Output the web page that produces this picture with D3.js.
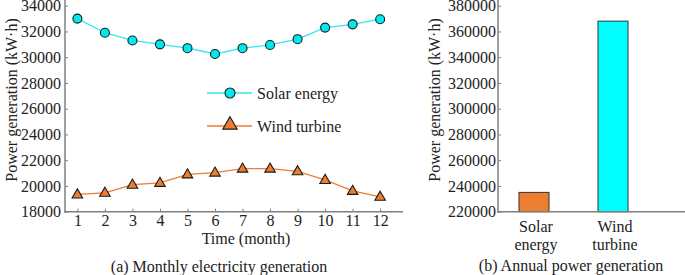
<!DOCTYPE html>
<html>
<head>
<meta charset="utf-8">
<script src="https://cdn.jsdelivr.net/npm/d3@7"></script>
<style>
  body { margin: 0; background: #fff; }
  svg text { font-family: "Liberation Serif", "Times New Roman", Times, "DejaVu Serif", serif; font-size: 16px; fill: #222; }
</style>
</head>
<body>
<svg id="chart" width="685" height="275"></svg>
<script>
// monthly data (panel a)
var months = [1, 2, 3, 4, 5, 6, 7, 8, 9, 10, 11, 12];
var solarMonthly = [33000, 31900, 31300, 31000, 30700, 30250, 30700, 30950, 31400, 32300, 32550, 32950];
var windMonthly = [19340, 19470, 20100, 20240, 20900, 21040, 21350, 21350, 21140, 20470, 19620, 19160];
var leftTicks = [18000, 20000, 22000, 24000, 26000, 28000, 30000, 32000, 34000];

// annual data (panel b) - labels as printed in the figure
var annualCats = ["Solar energy", "Wind turbine"];
var annualVals = [235000, 368000];
var annualColors = ["#ed7d31", "#00ffff"];
var rightTicks = [220000, 240000, 260000, 280000, 300000, 320000, 340000, 360000, 380000];

var svg = d3.select("#chart");
var axisColor = "#7f7f7f";
var cyanLine = "#30e8f0", cyanFill = "#00e8f0", orange = "#ed7d31";

function styleAxis(g) {
  g.attr("font-family", null).attr("font-size", null);
  g.select(".domain").remove();
  g.selectAll(".tick line").attr("stroke", axisColor);
  g.selectAll(".tick text").attr("fill", "#222");
}

// ---------- panel a ----------
var x = d3.scaleLinear().domain([0.55, 12.83]).range([65, 403]);
var y = d3.scaleLinear().domain([18000, 34000]).range([211.7, 5.7]);

var gA = svg.append("g");

gA.append("g")
    .attr("transform", "translate(65,0)")
    .call(d3.axisLeft(y).tickValues(leftTicks).tickSize(-3).tickPadding(4).tickFormat(d3.format("d")))
    .call(styleAxis);

gA.append("g")
    .attr("transform", "translate(0,211.7)")
    .call(d3.axisBottom(x).tickValues(months).tickSize(-3).tickPadding(3).tickFormat(d3.format("d")))
    .call(styleAxis);

gA.append("line").attr("x1", 65).attr("x2", 65).attr("y1", 0).attr("y2", 212.5)
    .attr("stroke", axisColor).attr("stroke-width", 1.5);
gA.append("line").attr("x1", 64.3).attr("x2", 403).attr("y1", 211.7).attr("y2", 211.7)
    .attr("stroke", axisColor).attr("stroke-width", 1.5);

var line = d3.line().x(function(d, i) { return x(months[i]); }).y(function(d) { return y(d); });

gA.append("path").datum(solarMonthly).attr("d", line)
    .attr("fill", "none").attr("stroke", cyanLine).attr("stroke-width", 1.3);
gA.append("path").datum(windMonthly).attr("d", line)
    .attr("fill", "none").attr("stroke", orange).attr("stroke-width", 1.3);

var tri = d3.symbol().type(d3.symbolTriangle).size(48);

gA.selectAll(".solar-dot")
    .data(solarMonthly)
  .enter().append("circle")
    .attr("class", "solar-dot")
    .attr("cx", function(d, i) { return x(months[i]); })
    .attr("cy", function(d) { return y(d); })
    .attr("r", 4.5)
    .attr("fill", cyanFill)
    .attr("stroke", "#1a1a1a")
    .attr("stroke-width", 1.1);

gA.selectAll(".wind-dot")
    .data(windMonthly)
  .enter().append("path")
    .attr("class", "wind-dot")
    .attr("d", tri)
    .attr("transform", function(d, i) { return "translate(" + x(months[i]) + "," + (y(d) + 0.5) + ")"; })
    .attr("fill", orange)
    .attr("stroke", "#1a1a1a")
    .attr("stroke-width", 1.1);

// legend
var legend = gA.append("g");
legend.append("line").attr("x1", 207).attr("x2", 252).attr("y1", 93).attr("y2", 93)
    .attr("stroke", cyanLine).attr("stroke-width", 1.3);
legend.append("circle").attr("cx", 230).attr("cy", 93).attr("r", 5)
    .attr("fill", cyanFill).attr("stroke", "#1a1a1a").attr("stroke-width", 1.1);
legend.append("text").attr("x", 257).attr("y", 93).attr("dy", ".35em").text("Solar energy");

legend.append("line").attr("x1", 207).attr("x2", 252).attr("y1", 126).attr("y2", 126)
    .attr("stroke", orange).attr("stroke-width", 1.3);
legend.append("path").attr("d", d3.symbol().type(d3.symbolTriangle).size(90))
    .attr("transform", "translate(230,125)")
    .attr("fill", orange).attr("stroke", "#1a1a1a").attr("stroke-width", 1.1);
legend.append("text").attr("x", 257).attr("y", 126).attr("dy", ".35em").text("Wind turbine");

gA.append("text").attr("x", 246).attr("y", 244).attr("text-anchor", "middle").text("Time (month)");
gA.append("text").attr("transform", "translate(17,100) rotate(-90)").attr("text-anchor", "middle")
    .text("Power generation (kW·h)");
gA.append("text").attr("x", 219).attr("y", 272).attr("text-anchor", "middle")
    .text("(a) Monthly electricity generation");

// ---------- panel b ----------
var xb = d3.scaleBand().domain(annualCats).range([479.5, 667.5]).paddingInner(0.62).paddingOuter(0.5);
var yb = d3.scaleLinear().domain([220000, 380000]).range([211.7, 5.7]);

var gB = svg.append("g");

gB.append("g")
    .attr("transform", "translate(498,0)")
    .call(d3.axisLeft(yb).tickValues(rightTicks).tickSize(-3).tickPadding(2).tickFormat(d3.format("d")))
    .call(styleAxis);

gB.selectAll(".bar")
    .data(annualVals)
  .enter().append("rect")
    .attr("class", "bar")
    .attr("x", function(d, i) { return xb(annualCats[i]); })
    .attr("width", xb.bandwidth())
    .attr("y", function(d) { return yb(d); })
    .attr("height", function(d) { return yb(220000) - yb(d); })
    .attr("fill", function(d, i) { return annualColors[i]; })
    .attr("stroke", "#333")
    .attr("stroke-width", 1);

gB.append("line").attr("x1", 498).attr("x2", 498).attr("y1", 0).attr("y2", 212.5)
    .attr("stroke", axisColor).attr("stroke-width", 1.5);
gB.append("line").attr("x1", 497.3).attr("x2", 685).attr("y1", 211.7).attr("y2", 211.7)
    .attr("stroke", axisColor).attr("stroke-width", 1.5);

gB.selectAll(".cat")
    .data(annualCats)
  .enter().append("text")
    .attr("class", "cat")
    .attr("text-anchor", "middle")
    .each(function(d) {
      var cx = xb(d) + xb.bandwidth() / 2 + 2;
      var words = d.split(" ");
      d3.select(this).append("tspan").attr("x", cx).attr("y", 232).text(words[0]);
      d3.select(this).append("tspan").attr("x", cx).attr("y", 250).text(words[1]);
    });

gB.append("text").attr("transform", "translate(440,100) rotate(-90)").attr("text-anchor", "middle")
    .text("Power generation (kW·h)");
gB.append("text").attr("x", 571).attr("y", 271).attr("text-anchor", "middle")
    .text("(b) Annual power generation");
</script>
</body>
</html>
